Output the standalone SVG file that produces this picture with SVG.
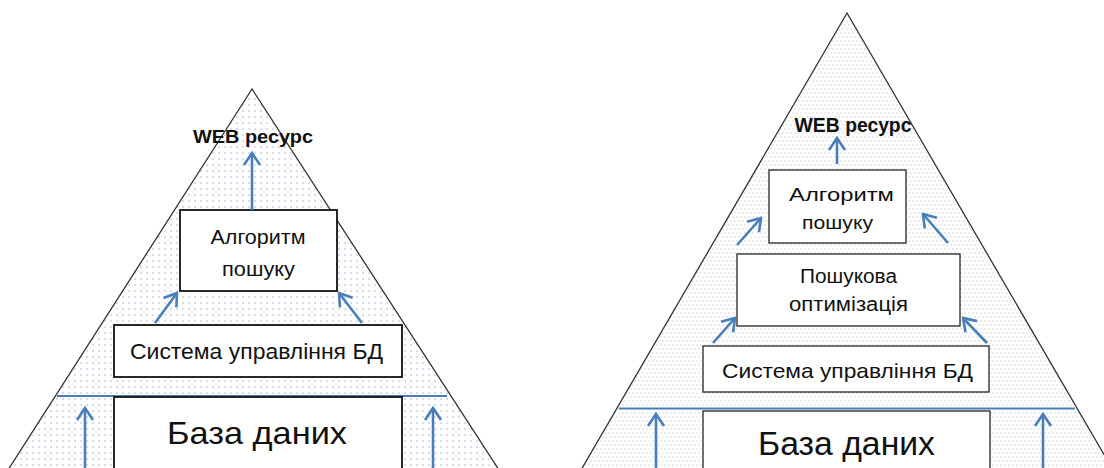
<svg xmlns="http://www.w3.org/2000/svg" width="1104" height="468" viewBox="0 0 1104 468">
<style>
.tri{stroke:#333;stroke-width:1.3;}
.sep{stroke:#4a7ebb;stroke-width:2;fill:none;}
.boxL{fill:#fff;stroke:#111;stroke-width:1.8;}
.boxR{fill:#fff;stroke:#333;stroke-width:1.4;}
.t{font-family:"Liberation Sans",Arial,sans-serif;fill:#111;text-anchor:middle;}
.web{font-family:"Liberation Sans",Arial,sans-serif;font-weight:bold;fill:#111;text-anchor:middle;}
.arr{stroke:#4a7ebb;stroke-width:2.6;fill:none;marker-end:url(#ah);}
</style>
<defs>
<pattern id="dotsL" width="6" height="6" patternUnits="userSpaceOnUse">
<rect x="2.4" y="2.4" width="1.3" height="1.3" fill="#9db1d3"/>
</pattern>
<pattern id="dotsR" width="8" height="8" patternUnits="userSpaceOnUse">
<rect x="0.5" y="0.5" width="1" height="1" fill="#b3b3b3"/>
<rect x="4.5" y="0.5" width="1" height="1" fill="#b3b3b3"/>
<rect x="2.5" y="4.5" width="1" height="1" fill="#b3b3b3"/>
<rect x="6.5" y="4.5" width="1" height="1" fill="#b3b3b3"/>
</pattern>
<marker id="ah" viewBox="-14 -10 16 20" refX="0" refY="0" markerWidth="16" markerHeight="20" markerUnits="userSpaceOnUse" orient="auto">
<path d="M-12,-8 L0,0 L-12,8" fill="none" stroke="#4a7ebb" stroke-width="2.6" stroke-linejoin="miter"/>
</marker>
</defs>

<g id="pyramid-left">
<polygon class="tri" points="252,89 8,470 499,470" fill="url(#dotsL)"/>
<line class="sep" x1="57" y1="396" x2="447" y2="396"/>
</g>
<g id="pyramid-right">
<polygon class="tri" points="847,13 581,470 1113,470" fill="url(#dotsR)"/>
<line class="sep" x1="619" y1="408.5" x2="1075" y2="408.5"/>
</g>

<g id="L-web"><text class="web" x="253" y="143" font-size="19" textLength="120" lengthAdjust="spacingAndGlyphs">WEB ресурс</text></g>
<g id="L-algo">
<rect class="boxL" x="180" y="210" width="157" height="81"/>
<text class="t" x="258" y="244" font-size="20" textLength="95" lengthAdjust="spacingAndGlyphs">Алгоритм</text>
<text class="t" x="258.5" y="276" font-size="20" textLength="73" lengthAdjust="spacingAndGlyphs">пошуку</text>
</g>
<g id="L-dbms">
<rect class="boxL" x="114" y="325" width="288" height="52"/>
<text class="t" x="256.5" y="359" font-size="22.5" textLength="253" lengthAdjust="spacingAndGlyphs">Система управління БД</text>
</g>
<g id="L-db">
<rect class="boxL" x="114" y="397" width="288" height="80"/>
<text class="t" x="257" y="444" font-size="32" textLength="180" lengthAdjust="spacingAndGlyphs">База даних</text>
</g>

<g id="R-web"><text class="web" x="853" y="132" font-size="19.5" textLength="117" lengthAdjust="spacingAndGlyphs">WEB ресурс</text></g>
<g id="R-algo">
<rect class="boxR" x="769" y="170" width="137" height="73"/>
<text class="t" x="841.5" y="201" font-size="19" textLength="105" lengthAdjust="spacingAndGlyphs">Алгоритм</text>
<text class="t" x="837.5" y="229" font-size="19" textLength="71" lengthAdjust="spacingAndGlyphs">пошуку</text>
</g>
<g id="R-opt">
<rect class="boxR" x="737" y="254" width="223" height="72"/>
<text class="t" x="848.5" y="283" font-size="20" textLength="97" lengthAdjust="spacingAndGlyphs">Пошукова</text>
<text class="t" x="848.5" y="311" font-size="20" textLength="119" lengthAdjust="spacingAndGlyphs">оптимізація</text>
</g>
<g id="R-dbms">
<rect class="boxR" x="703" y="346" width="286" height="46"/>
<text class="t" x="847.5" y="378" font-size="21" textLength="251" lengthAdjust="spacingAndGlyphs">Система управління БД</text>
</g>
<g id="R-db">
<rect class="boxR" x="703" y="411" width="287" height="70"/>
<text class="t" x="846.5" y="455" font-size="33" textLength="177" lengthAdjust="spacingAndGlyphs">База даних</text>
</g>

<g id="connectors">
<line class="arr" x1="252" y1="210" x2="252" y2="153"/>
<line class="arr" x1="155" y1="323" x2="177" y2="293"/>
<line class="arr" x1="362" y1="323" x2="339" y2="293"/>
<line class="arr" x1="85" y1="470" x2="85" y2="408"/>
<line class="arr" x1="433" y1="470" x2="433" y2="408"/>
<line class="arr" x1="837" y1="164" x2="837" y2="138"/>
<line class="arr" x1="737" y1="245" x2="761" y2="218"/>
<line class="arr" x1="948" y1="243" x2="923" y2="214"/>
<line class="arr" x1="713" y1="343" x2="735" y2="318"/>
<line class="arr" x1="987" y1="343" x2="963" y2="318"/>
<line class="arr" x1="656" y1="470" x2="656" y2="414"/>
<line class="arr" x1="1043" y1="470" x2="1043" y2="414"/>
</g>
</svg>
